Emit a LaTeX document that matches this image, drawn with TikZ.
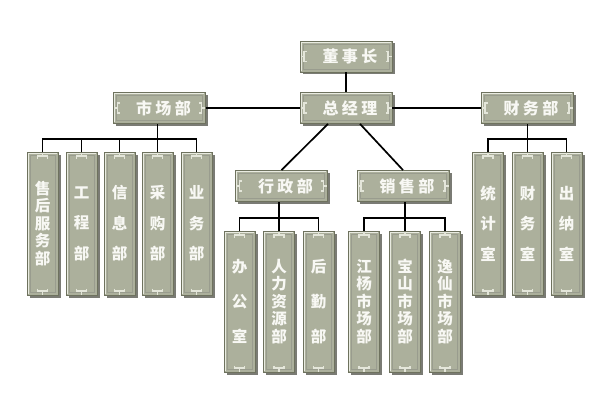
\documentclass[tikz,border=0pt]{standalone}
\usepackage{fontspec}
\newfontfamily\cjk{Noto Sans CJK SC}
\usetikzlibrary{shadows}
\definecolor{boxfill}{HTML}{ACB09C}
\definecolor{boxdark}{HTML}{6E725E}
\definecolor{boxlight}{HTML}{E4E6DA}
\definecolor{shadowc}{HTML}{4E4F46}
\definecolor{txtc}{HTML}{F8F8F4}
\newcommand\gapH{\hspace{3.5pt}}
\tikzset{
  notch/.style={draw=boxlight, line width=1.3pt},
  frame/.style={draw=boxdark!70, line width=0.5pt},
  hilite/.style={draw=boxlight!80, line width=0.6pt},
  basebox/.style={rectangle, fill=boxfill, draw=boxdark, line width=0.8pt,
    inner sep=0pt, text=txtc,
    drop shadow={shadow xshift=2.5pt, shadow yshift=-2.5pt, fill=shadowc, opacity=0.75}},
  hb/.style={basebox, minimum width=92pt, minimum height=31pt,
    font=\cjk\bfseries\fontsize{16}{18}\selectfont,
    path picture={
      \draw[hilite] ([xshift=1.2pt,yshift=1.2pt]path picture bounding box.south west) |- ([xshift=-1.2pt,yshift=-1.2pt]path picture bounding box.north east);
      \draw[frame] ([xshift=3pt,yshift=-3pt]path picture bounding box.north west) rectangle ([xshift=-3pt,yshift=3pt]path picture bounding box.south east);
      \draw[notch] (path picture bounding box.west) -- ++(4pt,0pt);
      \draw[notch] ([xshift=6.5pt,yshift=5pt]path picture bounding box.west) -- ++(-2.5pt,0pt) -- ++(0pt,-10pt) -- ++(2.5pt,0pt);
      \draw[notch] (path picture bounding box.east) -- ++(-4pt,0pt);
      \draw[notch] ([xshift=-6.5pt,yshift=5pt]path picture bounding box.east) -- ++(2.5pt,0pt) -- ++(0pt,-10pt) -- ++(-2.5pt,0pt);
    }},
  vb/.style={basebox, minimum width=31pt, align=center,
    path picture={
      \draw[hilite] ([xshift=1.2pt,yshift=1.2pt]path picture bounding box.south west) |- ([xshift=-1.2pt,yshift=-1.2pt]path picture bounding box.north east);
      \draw[frame] ([xshift=3pt,yshift=-3pt]path picture bounding box.north west) rectangle ([xshift=-3pt,yshift=3pt]path picture bounding box.south east);
      \draw[notch] (path picture bounding box.north) -- ++(0pt,-4pt);
      \draw[notch] ([xshift=-5pt,yshift=-6.5pt]path picture bounding box.north) -- ++(0pt,2.5pt) -- ++(10pt,0pt) -- ++(0pt,-2.5pt);
      \draw[notch] (path picture bounding box.south) -- ++(0pt,4pt);
      \draw[notch] ([xshift=-5pt,yshift=6.5pt]path picture bounding box.south) -- ++(0pt,-2.5pt) -- ++(10pt,0pt) -- ++(0pt,2.5pt);
    }},
  vtall/.style={vb, minimum height=143pt},
  vmid/.style={vb, minimum height=141pt},
  five/.style={font=\cjk\bfseries\fontsize{15.5}{17.5}\selectfont},
  threeA/.style={font=\cjk\bfseries\fontsize{15.5}{30.5}\selectfont},
  threeB/.style={font=\cjk\bfseries\fontsize{15.5}{35}\selectfont},
  link/.style={draw=black, line width=1.7pt},
}
\begin{document}
\begin{tikzpicture}[x=1pt,y=-1pt]
\fill[white] (0,0) rectangle (611,412);
\useasboundingbox (0,0) rectangle (611,412);

% top level
\node[hb] (dsz) at (346,56.5) {\hspace{8pt}董\gapH 事\gapH 长};
\node[hb] (zjl) at (346,108) {\hspace{8pt}总\gapH 经\gapH 理};
\node[hb] (scb) at (159.5,108) {\hspace{8pt}市\gapH 场\gapH 部};
\node[hb] (cwb) at (527,108) {\hspace{8pt}财\gapH 务\gapH 部};
\node[hb] (xzb) at (281.5,186) {\hspace{8pt}行\gapH 政\gapH 部};
\node[hb] (xsb) at (403,186) {\hspace{8pt}销\gapH 售\gapH 部};

% 市场部 children
\node[vtall,five]   (s1) at (42.5,223.5) {售\\后\\服\\务\\部};
\node[vtall,threeA] (s2) at (81.5,223.5) {工\\程\\部};
\node[vtall,threeA] (s3) at (119.5,223.5) {信\\息\\部};
\node[vtall,threeA] (s4) at (157.5,223.5) {采\\购\\部};
\node[vtall,threeA] (s5) at (196.5,223.5) {业\\务\\部};

% 行政部 children
\node[vmid,threeB] (x1) at (239.5,301.5) {办\\公\\室};
\node[vmid,five]   (x2) at (279,301.5) {人\\力\\资\\源\\部};
\node[vmid,threeB] (x3) at (318.5,301.5) {后\\勤\\部};

% 销售部 children
\node[vmid,five] (m1) at (364,301.5) {江\\杨\\市\\场\\部};
\node[vmid,five] (m2) at (405,301.5) {宝\\山\\市\\场\\部};
\node[vmid,five] (m3) at (445,301.5) {逸\\仙\\市\\场\\部};

% 财务部 children
\node[vtall,threeA] (c1) at (488,223.5) {统\\计\\室};
\node[vtall,threeA] (c2) at (527.5,223.5) {财\\务\\室};
\node[vtall,threeA] (c3) at (566.5,223.5) {出\\纳\\室};

% junction coordinates
\coordinate (js) at (157.5,139);
\coordinate (jx) at (279,218);
\coordinate (jm) at (405,218);
\coordinate (jc) at (527.5,139);

% connectors
\draw[link] (dsz) -- (zjl);
\draw[link] (scb.east) -- (zjl.west);
\draw[link] (zjl.east) -- (cwb.west);
\draw[link] ([xshift=-18pt]zjl.south) -- (xzb.north);
\draw[link] ([xshift=14pt]zjl.south) -- (xsb.north);

\draw[link] (s4.north |- scb.south) -- (s4.north);
\draw[link] (s1.north) -- (s1.north |- js) -- (s5.north |- js) -- (s5.north);
\draw[link] (s2.north |- js) -- (s2.north);
\draw[link] (s3.north |- js) -- (s3.north);

\draw[link] (x2.north |- xzb.south) -- (x2.north);
\draw[link] (x1.north) -- (x1.north |- jx) -- (x3.north |- jx) -- (x3.north);

\draw[link] (m2.north |- xsb.south) -- (m2.north);
\draw[link] (m1.north) -- (m1.north |- jm) -- (m3.north |- jm) -- (m3.north);

\draw[link] (c2.north |- cwb.south) -- (c2.north);
\draw[link] (c1.north) -- (c1.north |- jc) -- (c3.north |- jc) -- (c3.north);
\end{tikzpicture}
\end{document}
